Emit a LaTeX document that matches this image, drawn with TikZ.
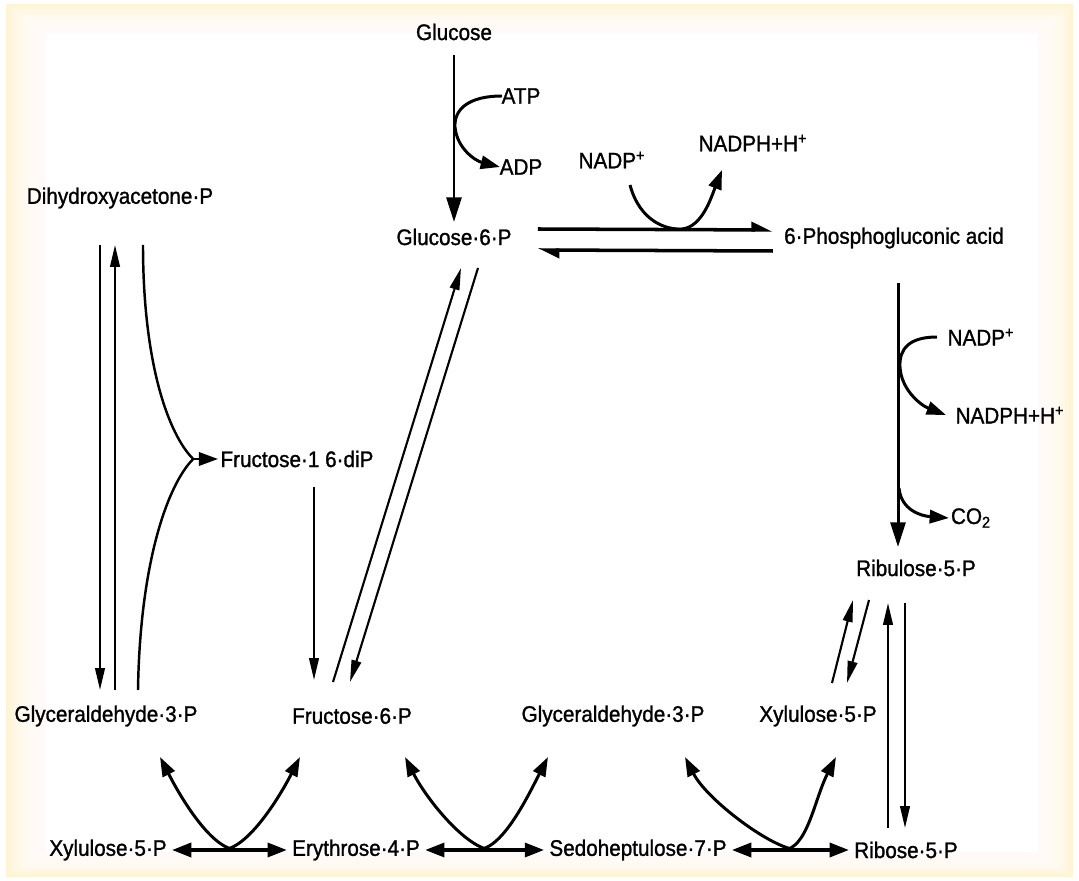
\documentclass[tikz,border=0pt]{standalone}
\usepackage{fontspec}
\setmainfont{Liberation Sans}[FakeStretch=0.92, FakeBold=1.2]
\usepackage{xcolor}
\usepackage{tikz}
\usetikzlibrary{arrows.meta, calc}
\definecolor{pcream}{HTML}{FFF5D6}

\tikzset{
  met/.style={font=\fontsize{12.8}{15}\selectfont, inner sep=0pt},
  fat/.style={line width=1.7pt, -{Triangle[length=14pt, width=8.5pt]}},
  side/.style={line width=1.7pt, -{Triangle[length=11pt, width=7.5pt]}},
  slim/.style={line width=1.2pt, -{Triangle[length=12.5pt, width=5.5pt]}},
  harp/.style={line width=2pt, -{Triangle[harpoon, length=10pt, width=9pt]}},
  swing/.style={line width=1.9pt, {Triangle[length=11pt, width=8pt]}-{Triangle[length=11pt, width=8pt]}},
}

\begin{document}
\begin{tikzpicture}[x=0.02cm, y=-0.02cm]

  %% Frame
  \useasboundingbox (0,0) rectangle (1079,881);
  \fill[white] (0,0) rectangle (1079,881);
  \fill[pcream] (6,4) rectangle (1073,877);
  \foreach \d in {0,...,11}{
    \fill[white, opacity=0.18] ({10+3*\d},{7+2.2*\d}) rectangle ({1069-2.6*\d},{874-1.8*\d});
  }
  \fill[white] (46,33) rectangle (1038,852);

  %% Metabolites
  \foreach \nm/\x/\y/\txt in {
    glc/454/32/{Glucose},
    atp/521/96/{ATP},
    adp/521/167/{ADP},
    g6p/454/237/{Glucose·6·P},
    nadpA/612/160/{NADP\textsuperscript{+}},
    nadphA/753/143/{NADPH+H\textsuperscript{+}},
    pga/894/238/{6·Phosphogluconic acid},
    nadpB/981/337/{NADP\textsuperscript{+}},
    nadphB/1010/415/{NADPH+H\textsuperscript{+}},
    co2/971/518/{CO\textsubscript{2}},
    ru5p/916/568/{Ribulose·5·P},
    dhap/120/198/{Dihydroxyacetone·P},
    f16/297/459/{Fructose·1 6·diP},
    gapL/106/716/{Glyceraldehyde·3·P},
    f6p/352/716/{Fructose·6·P},
    gapM/613/716/{Glyceraldehyde·3·P},
    xu5pM/818/716/{Xylulose·5·P},
    xu5pB/108/850/{Xylulose·5·P},
    e4p/356/850/{Erythrose·4·P},
    s7p/638/850/{Sedoheptulose·7·P},
    r5p/906/850/{Ribose·5·P}}{
    \node[met] (\nm) at (\x,\y) {\txt};
  }

  %% Hexokinase
  \draw[fat] ($(glc)+(0,23)$) -- ($(g6p)+(0,-15)$);
  \draw[side] ($(atp)+(-19,0)$) .. controls ($(atp)+(-52,0)$) and ($(g6p)+(0,-128)$) .. ($(g6p)+(1,-110)$)
    .. controls ($(g6p)+(3,-88)$) and ($(adp)+(-45,-6)$) .. ($(adp)+(-21,0)$);

  %% Glucose-6-P dehydrogenase
  \draw[harp] ($(g6p.east)+(26,-8)$) -- ($(pga.west)+(-11,-8)$);
  \draw[harp] ($(pga.west)+(-11,13)$) -- ($(g6p.east)+(26,13)$);
  \draw[side] ($(nadpA)+(18,25)$) .. controls ($(nadpA)+(28,62)$) and ($(nadpA)+(55,70)$) .. ($(nadpA)+(70,69)$)
    .. controls ($(nadpA)+(90,67)$) and ($(nadphA)+(-42,55)$) .. ($(nadphA)+(-31,27)$);

  %% Oxidative decarboxylation
  \draw[fat] ($(pga)+(4,45)$) -- ($(ru5p)+(-18,-21)$);
  \draw[side] ($(nadpB)+(-44,0)$) .. controls ($(nadpB)+(-72,0)$) and ($(nadpB)+(-82,12)$) .. ($(nadpB)+(-81,30)$)
    .. controls ($(nadpB)+(-80,52)$) and ($(nadphB)+(-90,-10)$) .. ($(nadphB)+(-64,0)$);
  \draw[side] ($(co2)+(-72,-30)$) .. controls ($(co2)+(-70,-8)$) and ($(co2)+(-50,-2)$) .. ($(co2)+(-22,0)$);

  %% Epimerase / isomerase
  \draw[slim] ($(xu5pM)+(14,-33)$) -- ($(ru5p)+(-63,32)$);
  \draw[slim] ($(ru5p)+(-47,32)$) -- ($(xu5pM)+(29,-33)$);
  \draw[slim] ($(r5p)+(-18,-22)$) -- ($(ru5p)+(-28,35)$);
  \draw[slim] ($(ru5p)+(-11,35)$) -- ($(r5p)+(-1,-22)$);

  %% Triose phosphates and aldolase
  \draw[slim] ($(dhap)+(-20,47)$) -- ($(gapL)+(-6,-26)$);
  \draw[slim] ($(gapL)+(9,-26)$) -- ($(dhap)+(-5,47)$);
  \coordinate (fork) at ($(f16.west)+(-27,0)$);
  \draw[line width=1.4pt] ($(dhap)+(23,47)$) .. controls ($(dhap)+(23,165)$) and ($(fork)+(-25,-25)$) .. (fork)
    .. controls ($(fork)+(-25,25)$) and ($(gapL)+(34,-155)$) .. ($(gapL)+(32,-26)$);
  \draw[side] (fork) -- ($(f16.west)+(-2,0)$);
  \draw[slim] ($(f16)+(17,28)$) -- ($(f6p)+(-38,-36)$);

  %% Hexose isomerase
  \draw[slim] ($(f6p)+(-19,-34)$) -- ($(g6p)+(7,31)$);
  \draw[slim] ($(g6p)+(24,31)$) -- ($(f6p)+(-2,-34)$);

  %% Transketolase / transaldolase
  \foreach \a/\b/\up/\ux/\uy/\vp/\vx/\vy in {
    xu5pB/e4p/gapL/54/41/f6p/-52/41,
    e4p/s7p/f6p/53/41/gapM/-65/41,
    s7p/r5p/gapM/72/41/xu5pM/18/41}{
    \draw[swing] ($(\a.east)+(5,0)$) -- ($(\b.west)+(-5,0)$);
    \coordinate (mid) at ($(\a.east)!0.5!(\b.west)$);
    \draw[side] ($(mid)+(8,0)$) .. controls ($(mid)+(-17,0)$) and ($(\up)+(\ux,\uy)+(22,43)$) .. ($(\up)+(\ux,\uy)$);
    \draw[side] ($(mid)+(-8,0)$) .. controls ($(mid)+(17,0)$) and ($(\vp)+(\vx,\vy)+(-22,43)$) .. ($(\vp)+(\vx,\vy)$);
  }

\end{tikzpicture}
\end{document}
